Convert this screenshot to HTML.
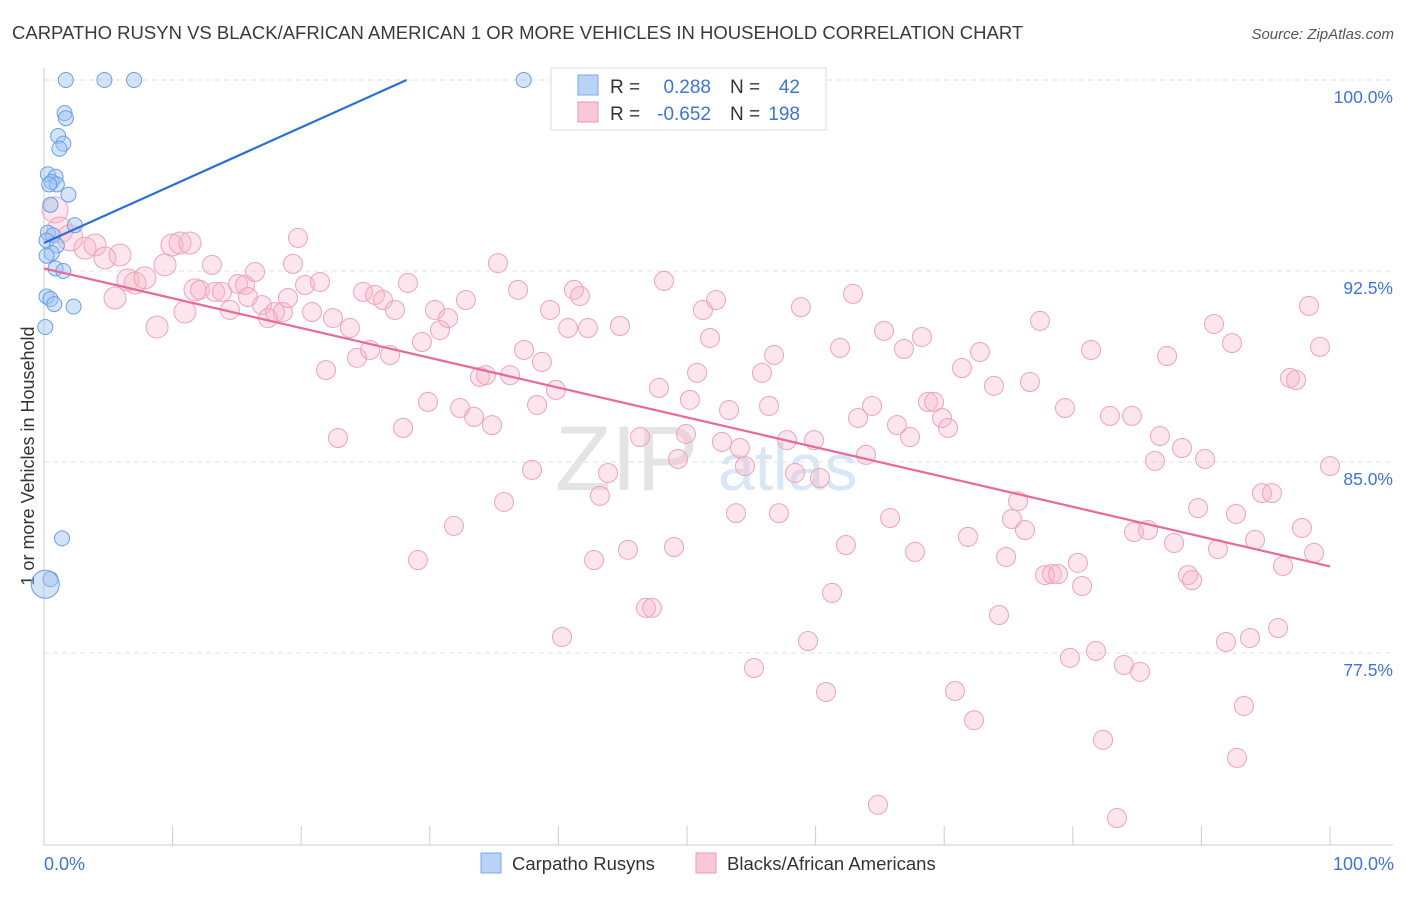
<!DOCTYPE html>
<html><head><meta charset="utf-8">
<style>
body{margin:0;background:#fff;font-family:"Liberation Sans",sans-serif;}
svg text{font-family:"Liberation Sans",sans-serif;}
</style></head>
<body>
<svg id="chart" width="1406" height="892" xmlns="http://www.w3.org/2000/svg">
<text x="12" y="39" font-size="18.5" fill="#3a3a3a">CARPATHO RUSYN VS BLACK/AFRICAN AMERICAN 1 OR MORE VEHICLES IN HOUSEHOLD CORRELATION CHART</text>
<text x="1394" y="39" font-size="15" font-style="italic" fill="#555" text-anchor="end">Source: ZipAtlas.com</text>
<text transform="translate(34,456) rotate(-90)" font-size="18" fill="#333" text-anchor="middle">1 or more Vehicles in Household</text>
<g>
<text x="555" y="490" font-size="92" fill="#e4e4e4" font-family="Liberation Serif">ZIP</text>
<text x="718" y="490" font-size="66" fill="#d9e6f6">atlas</text>
</g>
<g id="grid"></g>
<g id="axes"></g>
<g id="pts"></g>
<g id="lines"></g>
<g>
<rect x="551" y="68" width="275" height="62" fill="#fff" stroke="#ddd"/>
<rect x="578" y="75" width="20" height="20" fill="#b8d3f5" stroke="#7aa8e8"/>
<rect x="578" y="102" width="20" height="20" fill="#f9c8d6" stroke="#ee9ab4"/>
<text x="610" y="93" font-size="19" fill="#333">R =</text>
<text x="711" y="93" font-size="19" fill="#3d74d6" text-anchor="end">0.288</text>
<text x="730" y="93" font-size="19" fill="#333">N =</text>
<text x="800" y="93" font-size="19" fill="#3d74d6" text-anchor="end">42</text>
<text x="610" y="120" font-size="19" fill="#333">R =</text>
<text x="711" y="120" font-size="19" fill="#3d74d6" text-anchor="end">-0.652</text>
<text x="730" y="120" font-size="19" fill="#333">N =</text>
<text x="800" y="120" font-size="19" fill="#3d74d6" text-anchor="end">198</text>
</g>
<g>
<rect x="481" y="853" width="20" height="20" fill="#b8d3f5" stroke="#7aa8e8"/>
<text x="512" y="870" font-size="18.5" fill="#333">Carpatho Rusyns</text>
<rect x="696" y="853" width="20" height="20" fill="#f9c8d6" stroke="#ee9ab4"/>
<text x="727" y="870" font-size="18.5" fill="#333">Blacks/African Americans</text>
</g>
<text x="44" y="870" font-size="18" fill="#3d74d6">0.0%</text>
<text x="1394" y="870" font-size="18" fill="#3d74d6" text-anchor="end">100.0%</text>
</svg>
<script>
const yTicks=[100,92.5,85,77.5];
const yTickLabels=["100.0%","92.5%","85.0%","77.5%"];
const xTicks=[0,10,20,30,40,50,60,70,80,90,100];
const blueX=[1.7,4.7,7.0,37.3,1.6,1.7,1.1,1.5,1.2,0.3,0.9,0.6,1.0,0.4,1.9,0.5,2.4,0.3,0.7,0.2,1.0,0.6,0.2,0.9,1.5,0.2,0.5,0.8,2.3,0.1,1.4,0.5,0.1];
const blueY=[100,100,100,100,98.7,98.5,97.8,97.5,97.3,96.3,96.2,96.0,95.9,95.9,95.5,95.1,94.3,94.0,93.9,93.7,93.5,93.2,93.1,92.6,92.5,91.5,91.4,91.2,91.1,90.3,82.0,80.4,80.2];
const pinkX=[0.86,1.24,2.02,3.19,3.97,4.74,5.91,5.52,6.53,7.08,7.85,8.79,9.41,9.95,10.58,11.35,10.96,11.74,12.13,13.06,13.30,13.84,14.46,15.09,15.63,15.86,16.41,16.95,17.42,17.96,18.58,18.97,19.36,19.75,20.30,20.84,21.46,21.93,22.47,22.86,23.79,24.34,24.81,25.35,25.74,26.36,26.91,27.29,27.92,28.30,29.08,29.39,29.86,30.40,30.79,31.42,31.88,32.35,32.81,33.44,33.90,34.37,34.84,35.30,35.77,36.24,36.86,37.33,37.95,38.34,38.72,39.35,39.81,40.28,40.75,41.21,41.68,42.30,42.77,43.23,43.86,44.79,45.41,46.35,46.81,47.28,47.82,48.21,48.99,49.30,49.92,50.23,50.78,51.24,51.79,52.26,52.72,53.27,53.81,54.12,54.51,55.21,55.83,56.38,56.77,57.15,57.78,58.40,58.86,59.41,59.88,60.34,60.81,61.28,61.90,62.36,62.91,63.30,63.92,64.39,64.85,65.32,65.79,66.33,66.87,67.34,67.73,68.27,68.74,69.21,69.83,70.30,70.84,71.38,71.85,72.32,72.78,73.87,74.26,74.81,75.27,75.74,76.28,76.67,77.45,77.84,78.38,78.85,79.39,79.78,80.40,80.72,81.42,81.80,82.35,82.89,83.44,83.98,84.60,84.76,85.23,85.85,86.39,86.78,87.33,87.87,88.49,88.96,89.27,89.74,90.28,90.98,91.29,91.91,92.38,92.69,92.77,93.31,93.78,94.17,94.71,95.49,95.96,96.35,96.89,97.36,97.82,98.37,98.76,99.22,100.0];
const pinkY=[94.90,94.11,93.80,93.40,93.52,93.01,93.13,91.44,92.15,92.03,92.23,90.30,92.74,93.52,93.60,93.60,90.89,91.76,91.76,92.74,91.68,91.68,90.97,91.99,91.95,91.48,92.46,91.16,90.65,90.89,90.89,91.44,92.78,93.80,91.95,90.89,92.07,88.61,90.65,85.94,90.26,89.09,91.68,89.40,91.56,91.36,89.20,90.97,86.34,92.03,81.15,89.71,87.36,90.97,90.18,90.65,82.49,87.12,91.36,86.77,88.34,88.41,86.45,92.81,83.43,88.41,91.76,89.40,84.69,87.24,88.93,90.97,87.83,78.13,90.26,91.76,91.52,90.26,81.15,83.67,84.57,90.34,81.55,85.98,79.27,79.27,87.91,92.11,81.66,85.12,86.10,87.44,88.50,90.97,89.87,91.36,85.79,87.04,82.99,85.55,84.84,76.91,88.50,87.20,89.20,82.99,85.86,84.57,91.08,77.97,85.86,84.37,75.97,79.86,89.48,81.74,91.60,86.73,85.28,87.20,71.54,90.15,82.80,86.45,89.44,85.98,81.47,89.91,87.36,87.36,86.73,86.34,76.01,88.69,82.06,74.86,89.32,87.99,78.99,81.27,82.76,83.46,82.33,88.14,90.54,80.56,80.60,80.60,87.12,77.31,81.04,80.13,89.40,77.58,74.09,86.81,71.02,77.03,86.81,82.25,76.76,82.33,85.04,86.02,89.16,81.82,85.55,80.56,80.36,83.19,85.12,90.42,81.58,77.93,89.67,82.96,73.38,75.42,78.09,81.94,83.78,83.78,78.48,80.92,88.30,88.22,82.41,91.13,81.43,89.52,84.84];
const blueFit=[93.6,0.227];
const pinkFit=[92.6,-0.117];

const NS="http://www.w3.org/2000/svg";
const X0=44,X1=1330,YTOP=80,PX_PER_UNIT=191/7.5;
function sx(v){return X0+(X1-X0)*v/100;}
function sy(v){return YTOP+(100-v)*PX_PER_UNIT;}
function mk(tag,attrs,parent){const e=document.createElementNS(NS,tag);for(const k in attrs)e.setAttribute(k,attrs[k]);document.getElementById(parent).appendChild(e);return e;}

yTicks.forEach((t,i)=>{
  const g=mk('line',{x1:44,x2:1393,y1:sy(t),y2:sy(t),stroke:'#e2e2e2','stroke-dasharray':'5,4'},'grid');
  
  
  const tx=mk('text',{x:1393,y:sy(t)+23,'font-size':17.5,fill:'#3d74d6','text-anchor':'end'},'grid');
  tx.textContent=yTickLabels[i];
  
  
});
const ax=mk('line',{x1:44,x2:1393,y1:845,y2:845,stroke:'#ccc'},'axes');


const ay=mk('line',{x1:44,x2:44,y1:68,y2:845,stroke:'#ccc'},'axes');


xTicks.forEach(t=>{
  const l=mk('line',{x1:sx(t),x2:sx(t),y1:826,y2:845,stroke:'#ccc'},'axes');
  
  
});
pinkX.forEach((x,i)=>{
  const r=x<12?(x<3?13:11):9.5;
  const c=mk('circle',{cx:sx(x),cy:sy(pinkY[i]),r:r,fill:'rgba(246,180,200,0.35)',stroke:'#f0a3bb','stroke-width':1},'pts');
  
  
});
blueX.forEach((x,i)=>{
  const r=i===blueX.length-1?14:7.5;
  const c=mk('circle',{cx:sx(x),cy:sy(blueY[i]),r:r,fill:'rgba(160,195,240,0.45)',stroke:'#6b9ee6','stroke-width':1},'pts');
  
  
});
const bEnd=(100-blueFit[0])/blueFit[1];
const bl=mk('line',{x1:sx(0),y1:sy(blueFit[0]),x2:sx(bEnd),y2:sy(100),stroke:'#2a6fd6','stroke-width':2.2},'lines');


const pl=mk('line',{x1:sx(0),y1:sy(pinkFit[0]),x2:sx(100),y2:sy(pinkFit[0]+pinkFit[1]*100),stroke:'#e8699a','stroke-width':2.2},'lines');


</script>
</body></html>
